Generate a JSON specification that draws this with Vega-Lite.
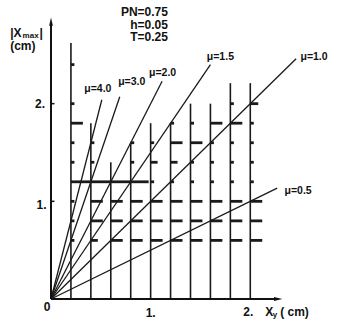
{
  "$schema": "https://vega.github.io/schema/vega-lite/v6.json",
  "width": 279,
  "height": 293,
  "autosize": "none",
  "padding": {"left": 51, "top": 6, "right": 9, "bottom": 28},
  "background": "white",
  "config": {"view": {"stroke": null}, "font": "Liberation Sans"},
  "datasets": {
    "verticals": [
      {"x": 0.2, "bottom": 0, "top": 2.62}, {"x": 0.4, "bottom": 0, "top": 1.8}, {"x": 0.6, "bottom": 0, "top": 1.4},
      {"x": 0.8, "bottom": 0, "top": 1.6}, {"x": 1.0, "bottom": 0, "top": 1.8}, {"x": 1.2, "bottom": 0, "top": 1.8},
      {"x": 1.4, "bottom": 0, "top": 2.0}, {"x": 1.6, "bottom": 0, "top": 2.0}, {"x": 1.8, "bottom": 0, "top": 2.21},
      {"x": 2.0, "bottom": 0, "top": 2.21}
    ],
    "dashes": [
      {"x": 0.2, "y": 2.4, "x_end": 0.235}, {"x": 0.2, "y": 2.0, "x_end": 0.235},
      {"x": 0.2, "y": 1.8, "x_end": 0.32}, {"x": 0.2, "y": 1.6, "x_end": 0.235},
      {"x": 0.2, "y": 1.4, "x_end": 0.235}, {"x": 0.2, "y": 1.2, "x_end": 0.4},
      {"x": 0.2, "y": 1.0, "x_end": 0.235}, {"x": 0.2, "y": 0.8, "x_end": 0.235},
      {"x": 0.2, "y": 0.6, "x_end": 0.235},
      {"x": 0.4, "y": 1.6, "x_end": 0.435}, {"x": 0.4, "y": 1.4, "x_end": 0.435},
      {"x": 0.4, "y": 1.2, "x_end": 0.6}, {"x": 0.4, "y": 1.0, "x_end": 0.52},
      {"x": 0.4, "y": 0.8, "x_end": 0.52}, {"x": 0.4, "y": 0.6, "x_end": 0.47},
      {"x": 0.6, "y": 1.2, "x_end": 0.8}, {"x": 0.6, "y": 1.0, "x_end": 0.72},
      {"x": 0.6, "y": 0.8, "x_end": 0.72}, {"x": 0.6, "y": 0.6, "x_end": 0.72},
      {"x": 0.8, "y": 1.6, "x_end": 0.835}, {"x": 0.8, "y": 1.4, "x_end": 0.835},
      {"x": 0.8, "y": 1.2, "x_end": 0.98}, {"x": 0.8, "y": 1.0, "x_end": 0.92},
      {"x": 0.8, "y": 0.8, "x_end": 0.92}, {"x": 0.8, "y": 0.6, "x_end": 0.92},
      {"x": 1.0, "y": 1.6, "x_end": 1.035}, {"x": 1.0, "y": 1.4, "x_end": 1.07},
      {"x": 1.0, "y": 1.2, "x_end": 1.035}, {"x": 1.0, "y": 1.0, "x_end": 1.12},
      {"x": 1.0, "y": 0.8, "x_end": 1.12}, {"x": 1.0, "y": 0.6, "x_end": 1.12},
      {"x": 1.2, "y": 1.8, "x_end": 1.235}, {"x": 1.2, "y": 1.6, "x_end": 1.32},
      {"x": 1.2, "y": 1.4, "x_end": 1.27}, {"x": 1.2, "y": 1.2, "x_end": 1.235},
      {"x": 1.2, "y": 1.0, "x_end": 1.32}, {"x": 1.2, "y": 0.8, "x_end": 1.32},
      {"x": 1.2, "y": 0.6, "x_end": 1.32},
      {"x": 1.4, "y": 1.8, "x_end": 1.435}, {"x": 1.4, "y": 1.6, "x_end": 1.52},
      {"x": 1.4, "y": 1.4, "x_end": 1.435}, {"x": 1.4, "y": 1.2, "x_end": 1.435},
      {"x": 1.4, "y": 1.0, "x_end": 1.52}, {"x": 1.4, "y": 0.8, "x_end": 1.52},
      {"x": 1.4, "y": 0.6, "x_end": 1.52},
      {"x": 1.6, "y": 1.8, "x_end": 1.72}, {"x": 1.6, "y": 1.6, "x_end": 1.635},
      {"x": 1.6, "y": 1.4, "x_end": 1.635}, {"x": 1.6, "y": 1.2, "x_end": 1.635},
      {"x": 1.6, "y": 1.0, "x_end": 1.72}, {"x": 1.6, "y": 0.8, "x_end": 1.72},
      {"x": 1.6, "y": 0.6, "x_end": 1.72},
      {"x": 1.8, "y": 2.0, "x_end": 1.835}, {"x": 1.8, "y": 1.8, "x_end": 1.92},
      {"x": 1.8, "y": 1.6, "x_end": 1.835}, {"x": 1.8, "y": 1.4, "x_end": 1.835},
      {"x": 1.8, "y": 1.2, "x_end": 1.835}, {"x": 1.8, "y": 1.0, "x_end": 1.92},
      {"x": 1.8, "y": 0.8, "x_end": 1.92}, {"x": 1.8, "y": 0.6, "x_end": 1.92},
      {"x": 2.0, "y": 2.0, "x_end": 2.08}, {"x": 2.0, "y": 1.8, "x_end": 2.035},
      {"x": 2.0, "y": 1.6, "x_end": 2.035}, {"x": 2.0, "y": 1.4, "x_end": 2.035},
      {"x": 2.0, "y": 1.2, "x_end": 2.035}, {"x": 2.0, "y": 1.0, "x_end": 2.12},
      {"x": 2.0, "y": 0.8, "x_end": 2.12}, {"x": 2.0, "y": 0.6, "x_end": 2.12}
    ],
    "mu": [
      {"label": "μ=4.0", "x0": 0, "y0": 0, "x_end": 0.51, "y_end": 2.04, "lx": 0.47, "ly": 2.15},
      {"label": "μ=3.0", "x0": 0, "y0": 0, "x_end": 0.69, "y_end": 2.07, "lx": 0.81, "ly": 2.22},
      {"label": "μ=2.0", "x0": 0, "y0": 0, "x_end": 1.115, "y_end": 2.23, "lx": 1.12, "ly": 2.31},
      {"label": "μ=1.5", "x0": 0, "y0": 0, "x_end": 1.6, "y_end": 2.4, "lx": 1.7, "ly": 2.48},
      {"label": "μ=1.0", "x0": 0, "y0": 0, "x_end": 2.46, "y_end": 2.46, "lx": 2.64, "ly": 2.48},
      {"label": "μ=0.5", "x0": 0, "y0": 0, "x_end": 2.27, "y_end": 1.135, "lx": 2.48, "ly": 1.11}
    ],
    "axes": [
      {"x": 0, "y": 0, "x_end": 0, "y_end": 2.82},
      {"x": 0, "y": 0, "x_end": 2.27, "y_end": 0}
    ],
    "yticks": [
      {"x": 0, "y": 1, "x_end": 0.035},
      {"x": 0, "y": 2, "x_end": 0.035}
    ],
    "arrow_up": [{"x": 0, "y": 2.84}],
    "arrow_right": [{"x": 2.28, "y": 0}],
    "ticklabels": [
      {"t": "0", "x": -0.04, "y": -0.08},
      {"t": "1.", "x": 1.0, "y": -0.148},
      {"t": "2.", "x": 1.98, "y": -0.138},
      {"t": "1.", "x": -0.095, "y": 0.96},
      {"t": "2.", "x": -0.11, "y": 2.0}
    ],
    "params": [
      {"t": "PN=0.75", "x": 1.174, "y": 2.94},
      {"t": "h=0.05", "x": 1.174, "y": 2.81},
      {"t": "T=0.25", "x": 1.174, "y": 2.68}
    ],
    "titles_big": [
      {"t": "|X", "x": -0.41, "y": 2.72},
      {"t": "|", "x": -0.115, "y": 2.72},
      {"t": "(cm)", "x": -0.41, "y": 2.59},
      {"t": "X", "x": 2.15, "y": -0.133},
      {"t": "( cm)", "x": 2.3, "y": -0.133}
    ],
    "titles_small": [
      {"t": "max", "x": -0.285, "y": 2.695},
      {"t": "y", "x": 2.225, "y": -0.165}
    ]
  },
  "layer": [
    {
      "data": {"name": "verticals"},
      "mark": {"type": "rule", "color": "#1a1a1a", "strokeWidth": 1.6},
      "encoding": {
        "x": {"field": "x", "type": "quantitative", "scale": {"domain": [0, 2.8]}, "axis": null},
        "y": {"field": "bottom", "type": "quantitative", "scale": {"domain": [0, 3]}, "axis": null},
        "y2": {"field": "top"}
      }
    },
    {
      "data": {"name": "dashes"},
      "mark": {"type": "rule", "color": "#1a1a1a", "strokeWidth": 2.8},
      "encoding": {
        "x": {"field": "x", "type": "quantitative", "scale": {"domain": [0, 2.8]}, "axis": null},
        "x2": {"field": "x_end"},
        "y": {"field": "y", "type": "quantitative", "scale": {"domain": [0, 3]}, "axis": null}
      }
    },
    {
      "data": {"name": "mu"},
      "mark": {"type": "rule", "color": "#1a1a1a", "strokeWidth": 1.3},
      "encoding": {
        "x": {"field": "x0", "type": "quantitative", "scale": {"domain": [0, 2.8]}, "axis": null},
        "x2": {"field": "x_end"},
        "y": {"field": "y0", "type": "quantitative", "scale": {"domain": [0, 3]}, "axis": null},
        "y2": {"field": "y_end"}
      }
    },
    {
      "data": {"name": "mu"},
      "mark": {"type": "text", "fontSize": 10.5, "fontWeight": "bold", "color": "#111", "align": "center", "baseline": "middle", "clip": false},
      "encoding": {
        "x": {"field": "lx", "type": "quantitative", "scale": {"domain": [0, 2.8]}, "axis": null},
        "y": {"field": "ly", "type": "quantitative", "scale": {"domain": [0, 3]}, "axis": null},
        "text": {"field": "label", "type": "nominal"}
      }
    },
    {
      "data": {"name": "axes"},
      "mark": {"type": "rule", "color": "#111", "strokeWidth": 2},
      "encoding": {
        "x": {"field": "x", "type": "quantitative", "scale": {"domain": [0, 2.8]}, "axis": null},
        "x2": {"field": "x_end"},
        "y": {"field": "y", "type": "quantitative", "scale": {"domain": [0, 3]}, "axis": null},
        "y2": {"field": "y_end"}
      }
    },
    {
      "data": {"name": "yticks"},
      "mark": {"type": "rule", "color": "#111", "strokeWidth": 1.5},
      "encoding": {
        "x": {"field": "x", "type": "quantitative", "scale": {"domain": [0, 2.8]}, "axis": null},
        "x2": {"field": "x_end"},
        "y": {"field": "y", "type": "quantitative", "scale": {"domain": [0, 3]}, "axis": null}
      }
    },
    {
      "data": {"name": "arrow_up"},
      "mark": {"type": "point", "shape": "M-0.45,1L0,-1L0.45,1Z", "filled": true, "size": 70, "color": "#111", "opacity": 1, "clip": false},
      "encoding": {
        "x": {"field": "x", "type": "quantitative", "scale": {"domain": [0, 2.8]}, "axis": null},
        "y": {"field": "y", "type": "quantitative", "scale": {"domain": [0, 3]}, "axis": null}
      }
    },
    {
      "data": {"name": "arrow_right"},
      "mark": {"type": "point", "shape": "M-1,-0.45L1,0L-1,0.45Z", "filled": true, "size": 70, "color": "#111", "opacity": 1, "clip": false},
      "encoding": {
        "x": {"field": "x", "type": "quantitative", "scale": {"domain": [0, 2.8]}, "axis": null},
        "y": {"field": "y", "type": "quantitative", "scale": {"domain": [0, 3]}, "axis": null}
      }
    },
    {
      "data": {"name": "ticklabels"},
      "mark": {"type": "text", "fontSize": 12, "fontWeight": "bold", "color": "#111", "align": "center", "baseline": "middle", "clip": false},
      "encoding": {
        "x": {"field": "x", "type": "quantitative", "scale": {"domain": [0, 2.8]}, "axis": null},
        "y": {"field": "y", "type": "quantitative", "scale": {"domain": [0, 3]}, "axis": null},
        "text": {"field": "t", "type": "nominal"}
      }
    },
    {
      "data": {"name": "params"},
      "mark": {"type": "text", "fontSize": 12, "fontWeight": "bold", "color": "#111", "align": "right", "baseline": "middle", "clip": false},
      "encoding": {
        "x": {"field": "x", "type": "quantitative", "scale": {"domain": [0, 2.8]}, "axis": null},
        "y": {"field": "y", "type": "quantitative", "scale": {"domain": [0, 3]}, "axis": null},
        "text": {"field": "t", "type": "nominal"}
      }
    },
    {
      "data": {"name": "titles_big"},
      "mark": {"type": "text", "fontSize": 12, "fontWeight": "bold", "color": "#111", "align": "left", "baseline": "middle", "clip": false},
      "encoding": {
        "x": {"field": "x", "type": "quantitative", "scale": {"domain": [0, 2.8]}, "axis": null},
        "y": {"field": "y", "type": "quantitative", "scale": {"domain": [0, 3]}, "axis": null},
        "text": {"field": "t", "type": "nominal"}
      }
    },
    {
      "data": {"name": "titles_small"},
      "mark": {"type": "text", "fontSize": 8, "fontWeight": "bold", "color": "#111", "align": "left", "baseline": "middle", "clip": false},
      "encoding": {
        "x": {"field": "x", "type": "quantitative", "scale": {"domain": [0, 2.8]}, "axis": null},
        "y": {"field": "y", "type": "quantitative", "scale": {"domain": [0, 3]}, "axis": null},
        "text": {"field": "t", "type": "nominal"}
      }
    }
  ]
}
